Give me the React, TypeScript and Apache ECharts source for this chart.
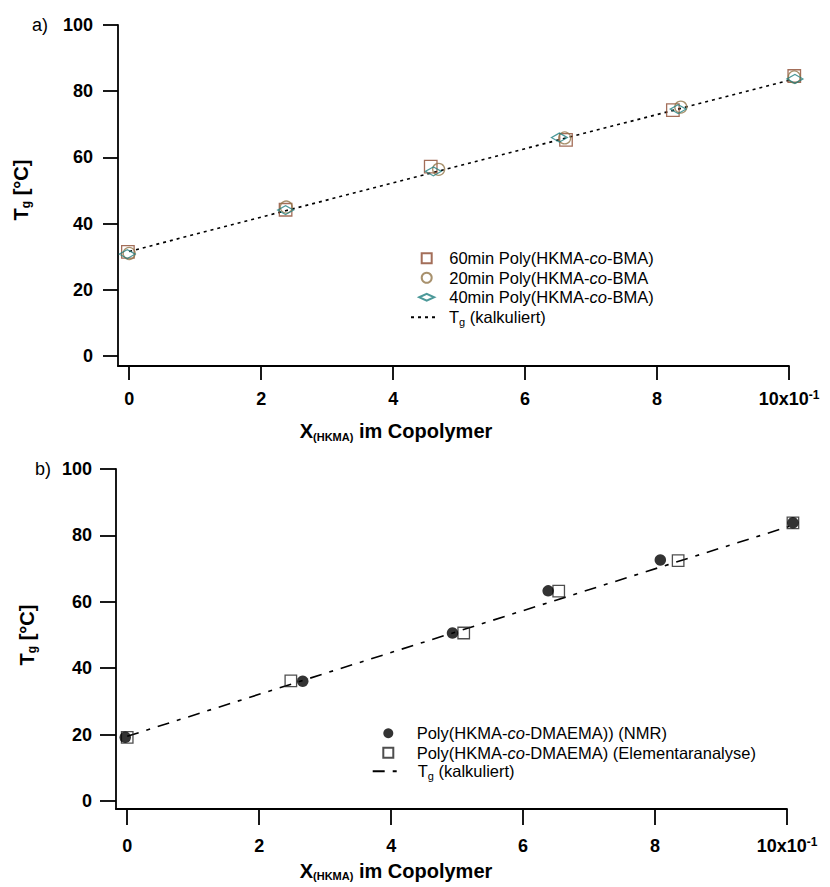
import React, { useEffect, useRef } from 'react';
import * as echarts from 'echarts';

const FONT = '"Liberation Sans", Arial, Helvetica, sans-serif';

// ---- axis ticks ----
const xTickValues = [0, 2, 4, 6, 8, 10];
const yTickValues = [0, 20, 40, 60, 80, 100];

// ---- chart a) Poly(HKMA-co-BMA) ----
const nameA60 = '60min Poly(HKMA-co-BMA)';
const nameA20 = '20min Poly(HKMA-co-BMA';
const nameA40 = '40min Poly(HKMA-co-BMA)';
const nameCalcA = 'Tg (kalkuliert) a';

const dataA60 = [[-0.02, 31.5], [2.37, 44.2], [4.57, 57.2], [6.62, 65.3], [8.24, 74.3], [10.08, 84.6]];
const dataA20 = [[0.0, 31.0], [2.38, 45.0], [4.69, 56.4], [6.6, 65.9], [8.36, 75.2], [10.08, 84.3]];
const dataA40 = [[-0.03, 30.8], [2.37, 44.1], [4.61, 55.8], [6.52, 66.0], [8.32, 74.6], [10.09, 83.7]];
const dataCalcA = [[0.0, 31.6], [2.37, 43.9], [4.6, 55.4], [6.55, 65.5], [8.3, 74.5], [10.08, 83.7]];

// ---- chart b) Poly(HKMA-co-DMAEMA) ----
const nameNMR = 'Poly(HKMA-co-DMAEMA)) (NMR)';
const nameEA = 'Poly(HKMA-co-DMAEMA) (Elementaranalyse)';
const nameCalcB = 'Tg (kalkuliert) b';

const dataNMR = [[-0.03, 19.2], [2.66, 36.1], [4.93, 50.6], [6.38, 63.3], [8.08, 72.6], [10.09, 83.8]];
const dataEA = [[0.0, 19.2], [2.48, 36.2], [5.1, 50.6], [6.54, 63.2], [8.35, 72.4], [10.09, 83.8]];
const dataCalcB = [[0.0, 19.5], [2.5, 35.3], [4.9, 50.4], [6.5, 60.5], [8.2, 71.2], [10.05, 82.8]];

const C60 = '#8c4a30';
const C20 = '#927649';
const C40 = '#1f8080';
const DIAMOND = 'path://M0,3.5L7.5,0L15,3.5L7.5,7Z';
const SQUARE = 'path://M0,0L10,0L10,10L0,10Z';
const LF = 16.5;
const LH = 19.5;

function legendText(name: string): string {
  if (name.startsWith('Tg (kalkuliert)')) return '{f|T}{s|g}{n| (kalkuliert)}';
  return '{f|' + name.replace('-co-', '-}{i|co}{n|-') + '}';
}

function legendRich(pad: number) {
  const base = { fontSize: LF, fontFamily: FONT, color: '#000', lineHeight: LH };
  return {
    f: { ...base, padding: [0, 0, 0, pad] },
    n: { ...base },
    i: { ...base, fontStyle: 'italic' },
    s: { fontSize: 11, fontFamily: FONT, color: '#000', lineHeight: 8, verticalAlign: 'bottom' },
  };
}

function legendTextStyle(pad: number) {
  return { color: '#000', fontSize: LF, fontFamily: FONT, lineHeight: LH, rich: legendRich(pad) };
}

function App() {
  const ref = useRef<HTMLDivElement>(null);
  useEffect(() => {
    const chart = echarts.init(ref.current!, null, { renderer: 'svg' });
    const tickRich = {
      b: { fontSize: 18, fontWeight: 'bold', fontFamily: FONT, color: '#000', lineHeight: 20 },
      sup: { fontSize: 12, fontWeight: 'bold', fontFamily: FONT, color: '#000', lineHeight: 8, verticalAlign: 'top' },
    };
    const xFmt = (v: number) => (v === 10 ? '{b|10x10}{sup|-1}' : '{b|' + v + '}');
    const axisLineStyle = { color: '#000', width: 1.8 };
    const mkX = (gridIndex: number, margin: number, tickLen: number) => ({
      type: 'value', gridIndex, min: -0.17, max: 10,
      axisLine: { show: true, onZero: false, lineStyle: axisLineStyle },
      axisTick: { show: true, length: tickLen, customValues: xTickValues, lineStyle: axisLineStyle },
      axisLabel: { customValues: xTickValues, margin, formatter: xFmt, rich: tickRich },
      splitLine: { show: false },
    });
    const mkY = (gridIndex: number, min: number, margin: number, tickLen: number) => ({
      type: 'value', gridIndex, min, max: 100,
      axisLine: { show: true, onZero: false, lineStyle: axisLineStyle },
      axisTick: { show: true, length: tickLen, customValues: yTickValues, lineStyle: axisLineStyle },
      axisLabel: { customValues: yTickValues, margin, fontSize: 18, fontWeight: 'bold', fontFamily: FONT, color: '#000' },
      splitLine: { show: false },
    });
    const hollow = (c: string) => ({ color: 'rgba(0,0,0,0)', borderColor: c, borderWidth: 1.3 });
    const titleRich = {
      t: { fontSize: 20, fontWeight: 'bold', fontFamily: FONT, fill: '#000', lineHeight: 22 },
      s: { fontSize: 11, fontWeight: 'bold', fontFamily: FONT, fill: '#000', lineHeight: 9, verticalAlign: 'bottom' },
      g: { fontSize: 12, fontWeight: 'bold', fontFamily: FONT, fill: '#000', lineHeight: 9, verticalAlign: 'bottom' },
    };
    const xTitle = (y: number) => ({
      type: 'text', x: 396, y,
      style: { text: '{t|X}{s|(HKMA)}{t| im Copolymer}', rich: titleRich, align: 'center', verticalAlign: 'middle' },
    });
    const yTitle = (x: number, y: number) => ({
      type: 'text', x, y, rotation: Math.PI / 2,
      style: { text: '{t|T}{g|g}{t| [°C]}', rich: titleRich, align: 'center', verticalAlign: 'middle' },
    });
    const noSymbol = { color: 'rgba(0,0,0,0)', borderColor: 'rgba(0,0,0,0)', borderWidth: 0 };
    const option = {
      animation: false,
      textStyle: { fontFamily: FONT },
      grid: [
        { left: 118, top: 25, width: 671, height: 341 },
        { left: 116, top: 469, width: 671, height: 340 },
      ],
      xAxis: [mkX(0, 23, 14), mkX(1, 27, 16)],
      yAxis: [mkY(0, -3, 25, 15), mkY(1, -2.4, 24, 16)],
      legend: [
        {
          orient: 'vertical', left: 418.2, top: 248.5, padding: 0, itemGap: 0,
          itemWidth: 15, itemHeight: 10, selectedMode: false,
          data: [{ name: nameA60, icon: SQUARE }, { name: nameA20 }, { name: nameA40 }], formatter: legendText,
          textStyle: legendTextStyle(10),
        },
        {
          orient: 'vertical', left: 410, top: 307.5, padding: 0, itemGap: 0,
          itemWidth: 28, itemHeight: 10, selectedMode: false,
          data: [nameCalcA], formatter: legendText, itemStyle: noSymbol,
          textStyle: legendTextStyle(5),
        },
        {
          orient: 'vertical', left: 382.3, top: 723.5, padding: 0, itemGap: 0,
          itemWidth: 12, itemHeight: 10, selectedMode: false,
          data: [{ name: nameNMR }, { name: nameEA, icon: SQUARE }], formatter: legendText,
          textStyle: legendTextStyle(17.4),
        },
        {
          orient: 'vertical', left: 371.7, top: 761.5, padding: 0, itemGap: 0,
          itemWidth: 26, itemHeight: 10, selectedMode: false,
          data: [nameCalcB], formatter: legendText, itemStyle: noSymbol,
          textStyle: legendTextStyle(14),
        },
      ],
      series: [
        { name: nameCalcA, type: 'line', xAxisIndex: 0, yAxisIndex: 0, data: dataCalcA, symbol: 'none', showSymbol: false,
          lineStyle: { color: '#000', width: 1.6, type: [3, 4] }, itemStyle: { color: 'rgba(0,0,0,0)' }, clip: false, z: 2 },
        { name: nameA60, type: 'scatter', xAxisIndex: 0, yAxisIndex: 0, data: dataA60, symbol: 'rect', symbolSize: 12.5,
          itemStyle: hollow(C60), clip: false, z: 3 },
        { name: nameA20, type: 'scatter', xAxisIndex: 0, yAxisIndex: 0, data: dataA20, symbol: 'circle', symbolSize: 12,
          itemStyle: hollow(C20), clip: false, z: 3 },
        { name: nameA40, type: 'scatter', xAxisIndex: 0, yAxisIndex: 0, data: dataA40, symbol: DIAMOND, symbolSize: [16, 9],
          itemStyle: hollow(C40), clip: false, z: 3 },
        { name: nameCalcB, type: 'line', xAxisIndex: 1, yAxisIndex: 1, data: dataCalcB, symbol: 'none', showSymbol: false,
          lineStyle: { color: '#000', width: 1.6, type: [12, 8, 4, 8] }, itemStyle: { color: 'rgba(0,0,0,0)' }, clip: false, z: 2 },
        { name: nameEA, type: 'scatter', xAxisIndex: 1, yAxisIndex: 1, data: dataEA, symbol: 'rect', symbolSize: 11.5,
          itemStyle: hollow('#222'), clip: false, z: 3 },
        { name: nameNMR, type: 'scatter', xAxisIndex: 1, yAxisIndex: 1, data: dataNMR, symbol: 'circle', symbolSize: 11.5,
          itemStyle: { color: '#000' }, clip: false, z: 4 },
      ],
      graphic: [
        { type: 'text', x: 32, y: 25, style: { text: 'a)', fontSize: 18, fontFamily: FONT, fill: '#000', align: 'left', verticalAlign: 'middle' } },
        { type: 'text', x: 35, y: 469, style: { text: 'b)', fontSize: 18, fontFamily: FONT, fill: '#000', align: 'left', verticalAlign: 'middle' } },
        yTitle(21, 190),
        yTitle(27, 635),
        xTitle(431),
        xTitle(870.5),
      ],
    };
    chart.setOption(option as any);
    return () => chart.dispose();
  }, []);
  return <div ref={ref} style={{ position: 'absolute', left: 0, top: 0, width: 830, height: 887, background: '#fff' }} />;
}

export default App;
